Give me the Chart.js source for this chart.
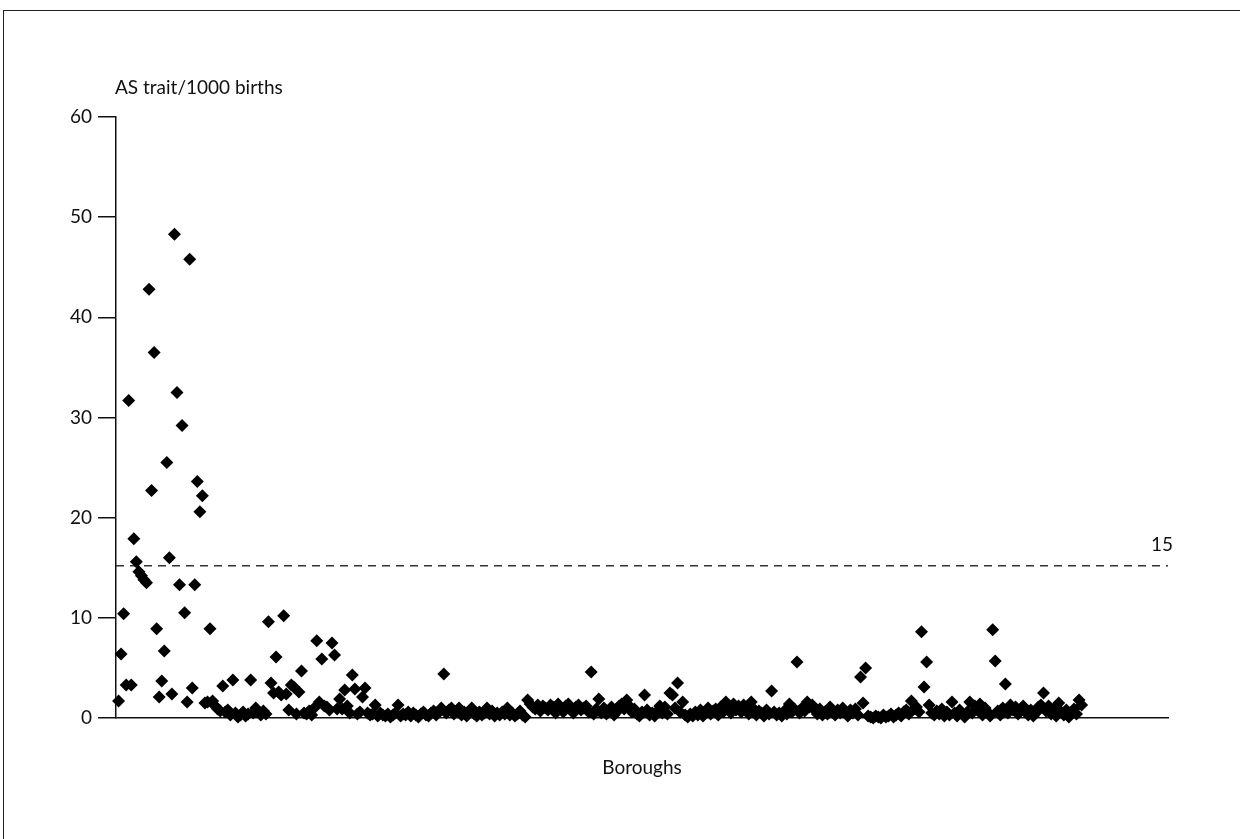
<!DOCTYPE html>
<html>
<head>
<meta charset="utf-8">
<script src="https://cdn.jsdelivr.net/npm/chart.js@4/dist/chart.umd.min.js"></script>
<style>
  body { margin: 0; background: #fff; }
  #frame {
    position: absolute; left: 3px; top: 10px; width: 1237px; height: 829px;
    border-top: 1.5px solid #222; border-left: 1.5px solid #222;
  }
  #wrap { position: absolute; left: 0; top: 0; width: 1240px; height: 839px; }
</style>
</head>
<body>
<div id="frame"></div>
<div id="wrap"><canvas id="chart"></canvas></div>
<script>
// AS trait per 1000 births, one value per borough (in plotted order)
const rates = [
  1.7, 6.4, 10.4, 3.3, 31.7, 3.3, 17.9, 15.6, 14.6, 14.2,
  13.8, 13.5, 42.8, 22.7, 36.5, 8.9, 2.1, 3.7, 6.7, 25.5,
  16.0, 2.4, 48.3, 32.5, 13.3, 29.2, 10.5, 1.6, 45.8, 3.0,
  13.3, 23.6, 20.6, 22.2, 1.5, 1.6, 8.9, 1.7, 1.2, 0.9,
  0.7, 3.2, 0.6, 0.8, 0.3, 3.8, 0.5, 0.1, 0.3, 0.6,
  0.2, 0.4, 3.8, 0.5, 1.0, 0.6, 0.3, 0.7, 0.4, 9.6,
  3.5, 2.5, 6.1, 2.6, 2.3, 10.2, 2.4, 0.8, 3.3, 3.1,
  0.4, 2.6, 4.7, 0.5, 0.4, 0.7, 0.3, 1.0, 7.7, 1.6,
  5.9, 1.2, 1.1, 0.8, 7.5, 6.3, 0.9, 1.9, 0.9, 2.8,
  1.2, 0.5, 4.3, 2.9, 0.4, 0.6, 2.1, 3.0, 0.5, 0.3,
  0.4, 1.3, 0.2, 0.5, 0.3, 0.2, 0.4, 0.1, 0.3, 0.5,
  1.3, 0.2, 0.4, 0.3, 0.6, 0.2, 0.5, 0.3, 0.1, 0.4,
  0.6, 0.3, 0.2, 0.5, 0.7, 0.3, 0.6, 1.0, 4.4, 0.5,
  0.8, 1.0, 0.4, 0.7, 1.0, 0.3, 0.6, 0.2, 0.5, 1.0,
  0.4, 0.2, 0.6, 0.3, 0.5, 1.0, 0.4, 0.7, 0.2, 0.5,
  0.3, 0.6, 0.4, 1.0, 0.3, 0.5, 0.2, 0.4, 0.7, 0.3,
  0.1, 1.8, 1.4, 1.1, 0.9, 1.3, 0.7, 1.2, 1.0, 0.8,
  1.3, 1.1, 0.5, 1.4, 1.0, 0.6, 1.2, 1.4, 0.9, 0.5,
  1.1, 1.3, 0.8, 1.0, 1.2, 0.6, 4.6, 0.4, 0.9, 1.9,
  0.5, 1.0, 0.4, 0.7, 1.1, 0.3, 0.6, 1.2, 1.4, 0.9,
  1.8, 1.2, 0.6, 0.9, 0.4, 0.2, 0.6, 2.3, 0.8, 0.3,
  0.5, 0.2, 0.7, 1.2, 0.5, 1.1, 0.4, 2.5, 2.3, 1.0,
  3.5, 0.6, 1.6, 0.3, 0.1, 0.4, 0.2, 0.6, 0.3, 0.8,
  0.2, 0.5, 1.0, 0.4, 0.7, 0.9, 0.3, 1.1, 0.6, 1.6,
  1.0, 0.5, 1.4, 0.8, 1.2, 0.6, 1.3, 1.0, 0.4, 1.6,
  0.9, 0.3, 0.7, 0.5, 0.2, 0.8, 0.4, 2.7, 0.6, 0.3,
  0.5, 0.2, 0.7, 0.4, 1.4, 0.6, 0.9, 5.6, 0.5, 1.0,
  0.7, 1.6, 1.1, 1.3, 0.8, 0.4, 0.9, 0.3, 0.6, 0.4,
  1.1, 0.7, 0.3, 0.8, 0.5, 1.0, 0.6, 0.2, 0.8, 0.5,
  0.9, 0.3, 4.1, 1.5, 5.0, 0.2, 0.1, 0.0, 0.2, 0.1,
  0.0, 0.3, 0.1, 0.2, 0.4, 0.1, 0.3, 0.5, 0.2, 0.6,
  0.8, 0.4, 1.7, 0.9, 1.1, 0.6, 8.6, 3.1, 5.6, 1.3,
  0.5, 0.3, 0.7, 0.4, 0.9, 0.2, 0.6, 0.3, 1.6, 0.5,
  0.2, 0.8, 0.4, 0.1, 0.6, 1.6, 0.5, 1.2, 0.8, 1.4,
  0.3, 1.0, 0.6, 0.2, 8.8, 5.7, 0.7, 0.3, 1.0, 3.4,
  0.5, 1.3, 0.8, 1.1, 0.4, 0.9, 1.2, 0.6, 0.3, 0.8,
  0.2, 0.5, 1.1, 1.3, 2.5, 0.7, 1.2, 0.4, 0.9, 0.2,
  1.5, 0.6, 0.3, 0.8, 0.1, 0.5, 0.9, 0.4, 1.8, 1.3
]

const yTicks = [0, 10, 20, 30, 40, 50, 60]
const threshold = 15.2
const thresholdLabel = '15'
const xMax = 414

const FONT = 'Lato, "Open Sans", sans-serif'
const INK = '#111'

// captions that Chart.js has no slot for
const captions = {
  id: 'captions',
  afterDraw(chart) {
    const { ctx, chartArea, scales } = chart
    ctx.save()
    ctx.fillStyle = INK
    ctx.font = '19px ' + FONT
    ctx.textBaseline = 'middle'
    ctx.textAlign = 'left'
    ctx.fillText('AS trait/1000 births', chartArea.left - 1, chartArea.top - 29)
    ctx.textAlign = 'right'
    ctx.fillText(thresholdLabel, chartArea.right + 5, scales.y.getPixelForValue(threshold) - 21)
    ctx.restore()
  }
}

new Chart(document.getElementById('chart'), {
  type: 'scatter',
  data: {
    datasets: [
      {
        label: 'AS trait',
        data: rates.map((v, i) => ({ x: i + 1, y: v })),
        pointStyle: 'rectRot',
        pointRadius: 6.5,
        pointHoverRadius: 6.5,
        backgroundColor: '#000',
        borderColor: '#000',
        borderWidth: 0,
        clip: false
      },
      {
        type: 'line',
        label: 'threshold',
        data: [{ x: 0, y: threshold }, { x: xMax, y: threshold }],
        borderColor: '#333',
        borderWidth: 1.5,
        borderDash: [8, 6],
        pointRadius: 0,
        fill: false,
        clip: false
      }
    ]
  },
  options: {
    responsive: true,
    maintainAspectRatio: false,
    animation: false,
    layout: { padding: { left: 0, top: 117, right: 72, bottom: 0 } },
    plugins: {
      legend: { display: false },
      tooltip: { enabled: false }
    },
    scales: {
      x: {
        type: 'linear',
        min: 0,
        max: xMax,
        grid: { display: false },
        border: { display: true, color: INK, width: 1.5 },
        ticks: { display: false },
        title: {
          display: true,
          text: 'Boroughs',
          color: INK,
          font: { family: FONT, size: 19 },
          padding: { top: 0, bottom: 60 }
        },
        afterFit(scale) { scale.height = 121 }
      },
      y: {
        type: 'linear',
        min: 0,
        max: 60,
        afterBuildTicks(scale) { scale.ticks = yTicks.map(v => ({ value: v })) },
        grid: {
          drawOnChartArea: false,
          drawTicks: true,
          tickLength: 18,
          color: INK,
          lineWidth: 1.5
        },
        border: { display: true, color: INK, width: 1.5 },
        ticks: {
          color: INK,
          padding: 6,
          font: { family: FONT, size: 19 }
        },
        afterFit(scale) { scale.width = 116 }
      }
    }
  },
  plugins: [captions]
})
</script>
</body>
</html>
